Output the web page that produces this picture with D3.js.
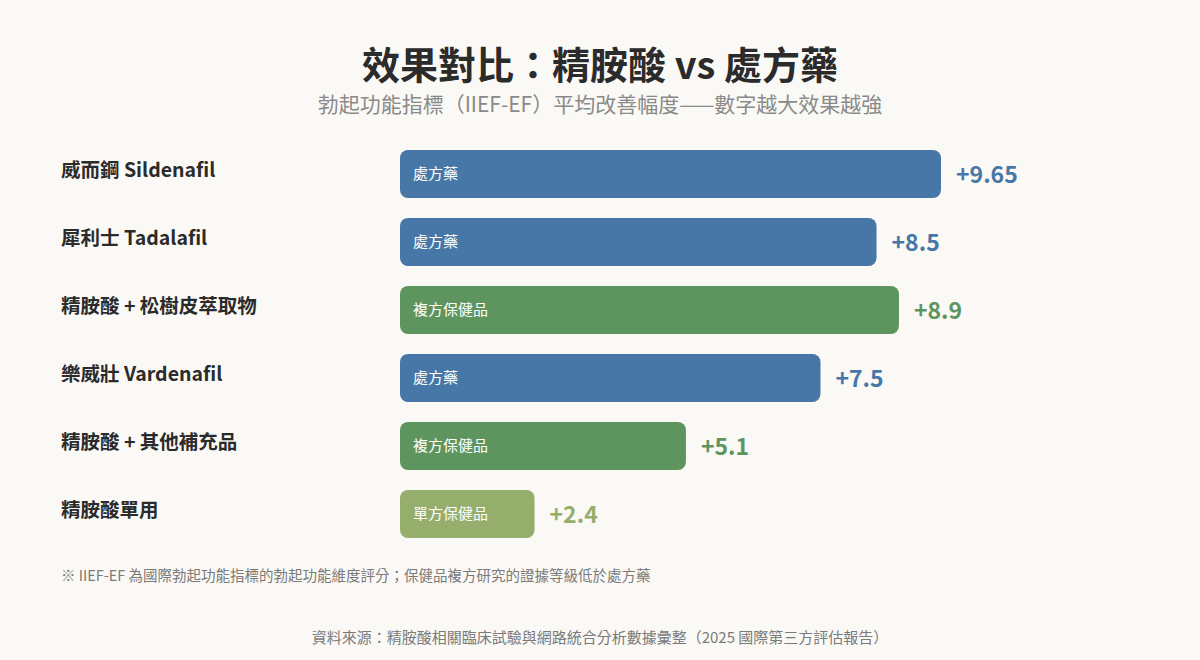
<!DOCTYPE html>
<html><head><meta charset="utf-8">
<script src="https://cdn.jsdelivr.net/npm/d3@7"></script>
<style>body{margin:0;background:#faf9f5;}svg{display:block;font-family:"Noto Sans CJK TC","Noto Sans",sans-serif;}</style>
</head><body><svg id="c" width="1200" height="660"></svg>
<script>
const categories=["威而鋼 Sildenafil","犀利士 Tadalafil","精胺酸 + 松樹皮萃取物","樂威壯 Vardenafil","精胺酸 + 其他補充品","精胺酸單用"];
const values=[9.65,8.5,8.9,7.5,5.1,2.4];
const types=["處方藥","處方藥","複方保健品","處方藥","複方保健品","單方保健品"];
const valueLabels=["+9.65","+8.5","+8.9","+7.5","+5.1","+2.4"];
const colorMap={"處方藥":"#4677a6","複方保健品":"#5e945d","單方保健品":"#96ae6b"};
const svg=d3.select("#c");
svg.append("rect").attr("width",1200).attr("height",660).attr("fill","#faf9f5");
svg.append("text").attr("x",600).attr("y",79).attr("text-anchor","middle").attr("font-size",38).attr("font-weight",700).attr("fill","#2b2b2b").text("效果對比：精胺酸 vs 處方藥");
svg.append("text").attr("x",600).attr("y",112).attr("text-anchor","middle").attr("font-size",21).attr("fill","#8a8a8a").text("勃起功能指標（IIEF-EF）平均改善幅度——數字越大效果越強");
const x=d3.scaleLinear().domain([0,9.65]).range([400,941]);
const y=d3.scaleBand().domain(categories).range([150,538]).paddingInner(20/68).paddingOuter(0);
const g=svg.selectAll("g.row").data(categories).enter().append("g");
g.append("rect").attr("x",x(0)).attr("y",d=>y(d)).attr("width",(d,i)=>x(values[i])-x(0)).attr("height",y.bandwidth()).attr("rx",8).attr("fill",(d,i)=>colorMap[types[i]]);
g.append("text").attr("x",61).attr("y",d=>y(d)+y.bandwidth()/2-2).attr("dominant-baseline","middle").attr("font-size",19.5).attr("font-weight",600).attr("fill","#2b2b2b").text(d=>d);
g.append("text").attr("x",x(0)+13).attr("y",d=>y(d)+y.bandwidth()/2+1).attr("dominant-baseline","middle").attr("font-size",15).attr("fill","#fff").text((d,i)=>types[i]);
g.append("text").attr("x",(d,i)=>x(values[i])+15).attr("y",d=>y(d)+y.bandwidth()/2+3).attr("dominant-baseline","middle").attr("font-size",23).attr("font-weight",600).attr("fill",(d,i)=>colorMap[types[i]]).text((d,i)=>valueLabels[i]);
svg.append("text").attr("x",61).attr("y",581).attr("font-size",14.5).attr("fill","#7a7a7a").text("※ IIEF-EF 為國際勃起功能指標的勃起功能維度評分；保健品複方研究的證據等級低於處方藥");
svg.append("text").attr("x",600).attr("y",643).attr("text-anchor","middle").attr("font-size",15).attr("fill","#7a7a7a").text("資料來源：精胺酸相關臨床試驗與網路統合分析數據彙整（2025 國際第三方評估報告）");
</script></body></html>
